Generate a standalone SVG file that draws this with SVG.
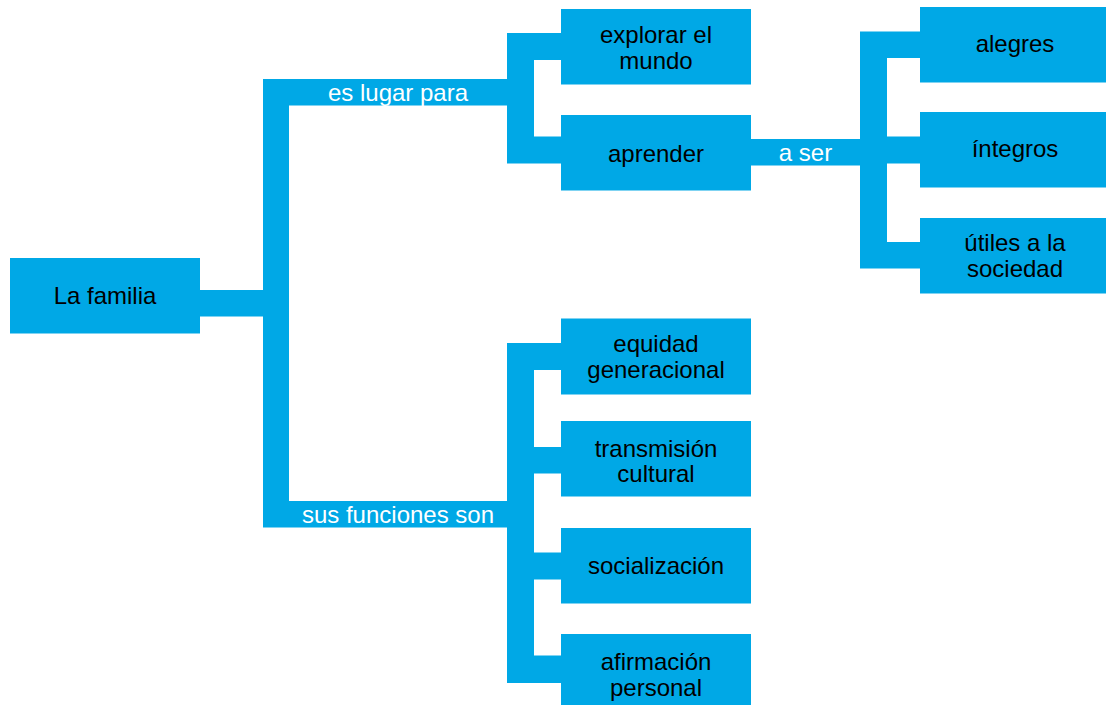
<svg xmlns="http://www.w3.org/2000/svg" width="1106" height="706" viewBox="0 0 1106 706">
<style>
  .box { fill: #00A8E6; }
  .bar { fill: #00A8E6; }
  .t { font-family: "Liberation Sans", Arial, Helvetica, sans-serif; font-size: 24px; text-anchor: middle; fill: #000000; }
  .lbl { font-family: "Liberation Sans", Arial, Helvetica, sans-serif; font-size: 24px; text-anchor: middle; fill: #FFFFFF; }
</style>
<rect x="0" y="0" width="1106" height="706" fill="#FFFFFF"/>
<g id="connectors">
  <rect class="bar" x="200" y="290" width="63" height="26.5"/>
  <rect class="bar" x="263" y="79" width="26" height="448.5"/>
  <rect class="bar" x="289" y="79" width="218" height="26.5"/>
  <text class="lbl" x="398" y="100.8">es lugar para</text>
  <rect class="bar" x="289" y="501" width="218" height="26.5"/>
  <text class="lbl" x="398" y="522.6">sus funciones son</text>
  <rect class="bar" x="507" y="33" width="27" height="130.5"/>
  <rect class="bar" x="534" y="33" width="27" height="27"/>
  <rect class="bar" x="534" y="136.5" width="27" height="27"/>
  <rect class="bar" x="751" y="139" width="109" height="26.5"/>
  <text class="lbl" x="805.5" y="161">a ser</text>
  <rect class="bar" x="860" y="31.5" width="27" height="237"/>
  <rect class="bar" x="887" y="31.5" width="33" height="26.5"/>
  <rect class="bar" x="887" y="136.5" width="33" height="27"/>
  <rect class="bar" x="887" y="242" width="33" height="26.5"/>
  <rect class="bar" x="507" y="343" width="27" height="340"/>
  <rect class="bar" x="534" y="343" width="27" height="27"/>
  <rect class="bar" x="534" y="447" width="27" height="26.5"/>
  <rect class="bar" x="534" y="552.5" width="27" height="27"/>
  <rect class="bar" x="534" y="655.5" width="27" height="27.5"/>
</g>
<g id="n-familia">
  <rect class="box" x="10" y="258" width="190" height="75.5"/>
  <text class="t" x="105" y="304">La familia</text>
</g>
<g id="n-explorar">
  <rect class="box" x="561" y="9" width="190" height="75.5"/>
  <text class="t" x="656" y="43">explorar el</text>
  <text class="t" x="656" y="68.5">mundo</text>
</g>
<g id="n-aprender">
  <rect class="box" x="561" y="115" width="190" height="75.5"/>
  <text class="t" x="656" y="161.5">aprender</text>
</g>
<g id="n-alegres">
  <rect class="box" x="920" y="7" width="190" height="75.5"/>
  <text class="t" x="1015" y="51.5">alegres</text>
</g>
<g id="n-integros">
  <rect class="box" x="920" y="112" width="190" height="75.5"/>
  <text class="t" x="1015" y="157">íntegros</text>
</g>
<g id="n-utiles">
  <rect class="box" x="920" y="218" width="190" height="75.5"/>
  <text class="t" x="1015" y="251">útiles a la</text>
  <text class="t" x="1015" y="276.5">sociedad</text>
</g>
<g id="n-equidad">
  <rect class="box" x="561" y="318.5" width="190" height="76"/>
  <text class="t" x="656" y="352.4">equidad</text>
  <text class="t" x="656" y="378.4">generacional</text>
</g>
<g id="n-transmision">
  <rect class="box" x="561" y="421" width="190" height="75.5"/>
  <text class="t" x="656" y="456.5">transmisión</text>
  <text class="t" x="656" y="482">cultural</text>
</g>
<g id="n-socializacion">
  <rect class="box" x="561" y="528" width="190" height="75.5"/>
  <text class="t" x="656" y="574">socialización</text>
</g>
<g id="n-afirmacion">
  <rect class="box" x="561" y="634" width="190" height="71"/>
  <text class="t" x="656" y="670">afirmación</text>
  <text class="t" x="656" y="695.5">personal</text>
</g>
</svg>
